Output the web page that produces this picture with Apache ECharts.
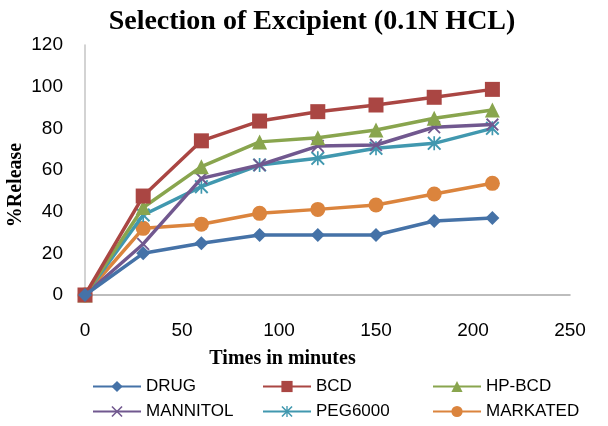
<!DOCTYPE html>
<html>
<head>
<meta charset="utf-8">
<script src="https://cdn.jsdelivr.net/npm/echarts@6/dist/echarts.min.js"></script>
<style>
  html, body { margin: 0; padding: 0; background: #fff; }
  #main { width: 608px; height: 426px; }
</style>
</head>
<body>
<div id="main"></div>
<script>
// time points (min)
var times = [0, 30, 60, 90, 120, 150, 180, 210];

// %release per formulation
var drug     = [0, 20, 24.8, 28.8, 28.8, 28.8, 35.5, 37];
var bcd      = [0, 47.5, 74, 83.5, 88, 91.2, 94.9, 98.7];
var hpbcd    = [0, 42, 61.6, 73.5, 75.5, 79.2, 84.8, 88.8];
var mannitol = [0, 24.5, 56, 62.4, 71.5, 72, 80.5, 81.8];
var peg6000  = [0, 38.4, 52, 62.4, 65.6, 70.4, 72.8, 80];
var markated = [0, 32, 34, 39.2, 41.1, 43.2, 48.5, 53.6];

var names = ['DRUG', 'BCD', 'HP-BCD', 'MANNITOL', 'PEG6000', 'MARKATED'];
var colors = ['#4572A7', '#AA4643', '#89A54E', '#71588F', '#4198AF', '#DB843D'];

var crossPath = 'path://M0,1L1,0L5,4L9,0L10,1L6,5L10,9L9,10L5,6L1,10L0,9L4,5Z';
var starPath = 'path://M0,1L1,0L5,4L9,0L10,1L6,5L10,9L9,10L5,6L1,10L0,9L4,5Z M4.4,0L5.6,0L5.6,10L4.4,10Z';
var symbols = ['diamond', 'rect', 'triangle', crossPath, starPath, 'circle'];
var sizes = [14, 15, 15, 13, 14, 15];

function pairs(vals) {
    return times.map(function (t, i) { return [t, vals[i]]; });
}
var allData = [drug, bcd, hpbcd, mannitol, peg6000, markated];

var series = allData.map(function (vals, i) {
    return {
        name: names[i],
        type: 'line',
        data: pairs(vals),
        symbol: symbols[i],
        symbolSize: sizes[i],
        showAllSymbol: true,
        lineStyle: { width: 3.5, color: colors[i] },
        itemStyle: { color: colors[i] },
        z: 10 - i
    };
});

var legendText = { fontFamily: 'Liberation Sans', fontSize: 17, lineHeight: 17, color: '#000' };
function col(left, data) {
    return {
        orient: 'vertical',
        left: left,
        top: 378,
        padding: 0,
        itemWidth: 48,
        itemHeight: 14,
        itemGap: 8,
        data: data,
        textStyle: legendText,
        selectedMode: false
    };
}

var myChart = echarts.init(document.getElementById('main'));
var option = {
    backgroundColor: '#fff',
    color: colors,
    animation: false,
    title: {
        text: 'Selection of Excipient (0.1N HCL)',
        left: 312,
        textAlign: 'center',
        top: 8,
        padding: 0,
        textStyle: { fontFamily: 'Liberation Serif', fontWeight: 'bold', fontSize: 28, color: '#000' }
    },
    legend: [
        col(92, ['DRUG', 'MANNITOL']),
        col(262, ['BCD', 'PEG6000']),
        col(432, ['HP-BCD', 'MARKATED'])
    ],
    grid: { left: 85, right: 38, top: 45, bottom: 131, containLabel: false, outerBoundsMode: 'none' },
    xAxis: {
        type: 'value',
        min: 0,
        max: 250,
        interval: 50,
        name: 'Times in minutes',
        nameLocation: 'middle',
        nameGap: 54,
        nameTextStyle: {
            fontFamily: 'Liberation Serif', fontWeight: 'bold', fontSize: 20, color: '#000',
            padding: [0, 90, 0, 0]
        },
        axisLine: { lineStyle: { color: '#a8a8a8', width: 1.5 } },
        axisTick: { show: false },
        splitLine: { show: false },
        axisLabel: { fontFamily: 'Liberation Sans', fontSize: 19, color: '#000', margin: 26 }
    },
    yAxis: {
        type: 'value',
        min: 0,
        max: 120,
        interval: 20,
        name: '%Release',
        nameLocation: 'middle',
        nameGap: 59,
        nameMoveOverlap: false,
        nameTextStyle: {
            fontFamily: 'Liberation Serif', fontWeight: 'bold', fontSize: 20, color: '#000',
            padding: [0, 30, 0, 0]
        },
        axisLine: { show: true, lineStyle: { color: '#c4c4c4', width: 1.5 } },
        axisTick: { show: false },
        splitLine: { show: false },
        axisLabel: { fontFamily: 'Liberation Sans', fontSize: 19, color: '#000', margin: 22 }
    },
    series: series
};
myChart.setOption(option);
</script>
</body>
</html>
